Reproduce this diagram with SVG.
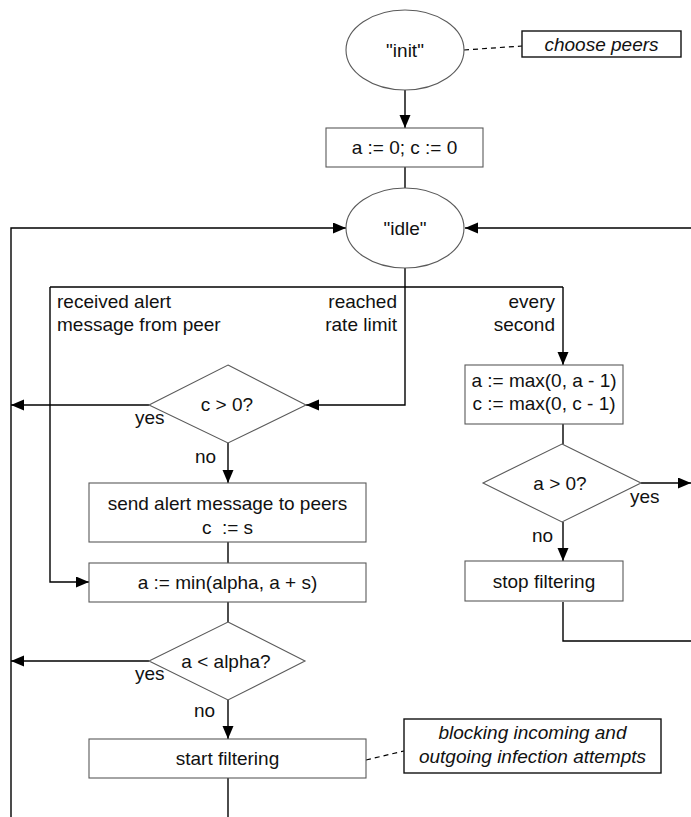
<svg xmlns="http://www.w3.org/2000/svg" width="691" height="817" viewBox="0 0 691 817">
<style>
.node{fill:#fff;stroke:#5a5a5a;stroke-width:1.1}
.note{fill:#fff;stroke:#111;stroke-width:1.4}
.t{font-family:"Liberation Sans",Arial,Helvetica,sans-serif;font-size:19px;fill:#111}
.c{text-anchor:middle}
.r{text-anchor:end}
.i{font-style:italic}
.e{fill:none;stroke:#000;stroke-width:1.4}
.d{fill:none;stroke:#000;stroke-width:1.2;stroke-dasharray:5,4}
</style>
<defs>
<marker id="ah" markerUnits="userSpaceOnUse" markerWidth="14" markerHeight="12" refX="13" refY="5.5" orient="auto">
<path d="M0,0 L13,5.5 L0,11 Z" fill="#000"/>
</marker>
</defs>
<g id="connectors">
<path class="e" d="M405,90 V128" marker-end="url(#ah)"/>
<path class="e" d="M405,167 V188"/>
<path class="e" d="M405,268 V287"/>
<path class="e" d="M50,287 H563"/>
<path class="e" d="M50,287 V582 H89" marker-end="url(#ah)"/>
<path class="e" d="M405,287 V405 H306" marker-end="url(#ah)"/>
<path class="e" d="M563,287 V365" marker-end="url(#ah)"/>
<path class="e" d="M149,405 H11" marker-end="url(#ah)"/>
<path class="e" d="M228,443 V483" marker-end="url(#ah)"/>
<path class="e" d="M228,542 V563"/>
<path class="e" d="M228,602 V622"/>
<path class="e" d="M149,661 H11" marker-end="url(#ah)"/>
<path class="e" d="M228,700 V739" marker-end="url(#ah)"/>
<path class="e" d="M228,778 V817"/>
<path class="e" d="M11,817 V228 H346" marker-end="url(#ah)"/>
<path class="e" d="M691,228 H465" marker-end="url(#ah)"/>
<path class="e" d="M563,424 V444"/>
<path class="e" d="M641,483 H691" marker-end="url(#ah)"/>
<path class="e" d="M563,522 V561" marker-end="url(#ah)"/>
<path class="e" d="M563,602 V641 H691"/>
<path class="d" d="M464,50 L522,46"/>
<path class="d" d="M366,760 L404,751"/>
<text class="t" x="57" y="308">received alert</text>
<text class="t" x="57" y="331">message from peer</text>
<text class="t r" x="397" y="308">reached</text>
<text class="t r" x="397" y="331">rate limit</text>
<text class="t r" x="555" y="308">every</text>
<text class="t r" x="555" y="331">second</text>
<text class="t" x="135" y="424">yes</text>
<text class="t" x="195" y="463">no</text>
<text class="t" x="135" y="680">yes</text>
<text class="t" x="194" y="717">no</text>
<text class="t" x="630" y="503">yes</text>
<text class="t" x="532" y="542">no</text>
</g>
<g id="init">
<ellipse class="node" cx="405" cy="50" rx="59" ry="40"/>
<text class="t c" x="405" y="57">"init"</text>
</g>
<g id="choose-peers">
<rect class="note" x="522" y="31" width="159" height="26"/>
<text class="t c i" x="601.5" y="51">choose peers</text>
</g>
<g id="reset">
<rect class="node" x="326" y="128" width="157" height="39"/>
<text class="t c" x="404.5" y="154">a := 0; c := 0</text>
</g>
<g id="idle">
<ellipse class="node" cx="405" cy="228" rx="59" ry="40"/>
<text class="t c" x="405" y="235">"idle"</text>
</g>
<g id="c-check">
<polygon class="node" points="228,365 306,405 228,443 149,405"/>
<text class="t c" x="227" y="411">c &gt; 0?</text>
</g>
<g id="send-alert">
<rect class="node" x="89" y="483" width="277" height="59"/>
<text class="t c" x="227.5" y="510">send alert message to peers</text>
<text class="t c" x="227.5" y="534">c &#160;:= s</text>
</g>
<g id="a-min">
<rect class="node" x="89" y="563" width="277" height="39"/>
<text class="t c" x="227.5" y="589">a := min(alpha, a + s)</text>
</g>
<g id="alpha-check">
<polygon class="node" points="228,622 305,661 228,700 149,661"/>
<text class="t c" x="226" y="668">a &lt; alpha?</text>
</g>
<g id="start-filtering">
<rect class="node" x="89" y="739" width="277" height="39"/>
<text class="t c" x="227.5" y="765">start filtering</text>
</g>
<g id="blocking-note">
<rect class="note" x="404" y="719" width="257" height="54"/>
<text class="t c i" x="532.5" y="739">blocking incoming and</text>
<text class="t c i" x="532.5" y="763">outgoing infection attempts</text>
</g>
<g id="decrement">
<rect class="node" x="465" y="365" width="158" height="59"/>
<text class="t c" x="544" y="387">a := max(0, a - 1)</text>
<text class="t c" x="544" y="410">c := max(0, c - 1)</text>
</g>
<g id="a-check">
<polygon class="node" points="562,444 641,483 562,522 483,483"/>
<text class="t c" x="560" y="490">a &gt; 0?</text>
</g>
<g id="stop-filtering">
<rect class="node" x="465" y="561" width="158" height="40"/>
<text class="t c" x="544" y="588">stop filtering</text>
</g>
</svg>
